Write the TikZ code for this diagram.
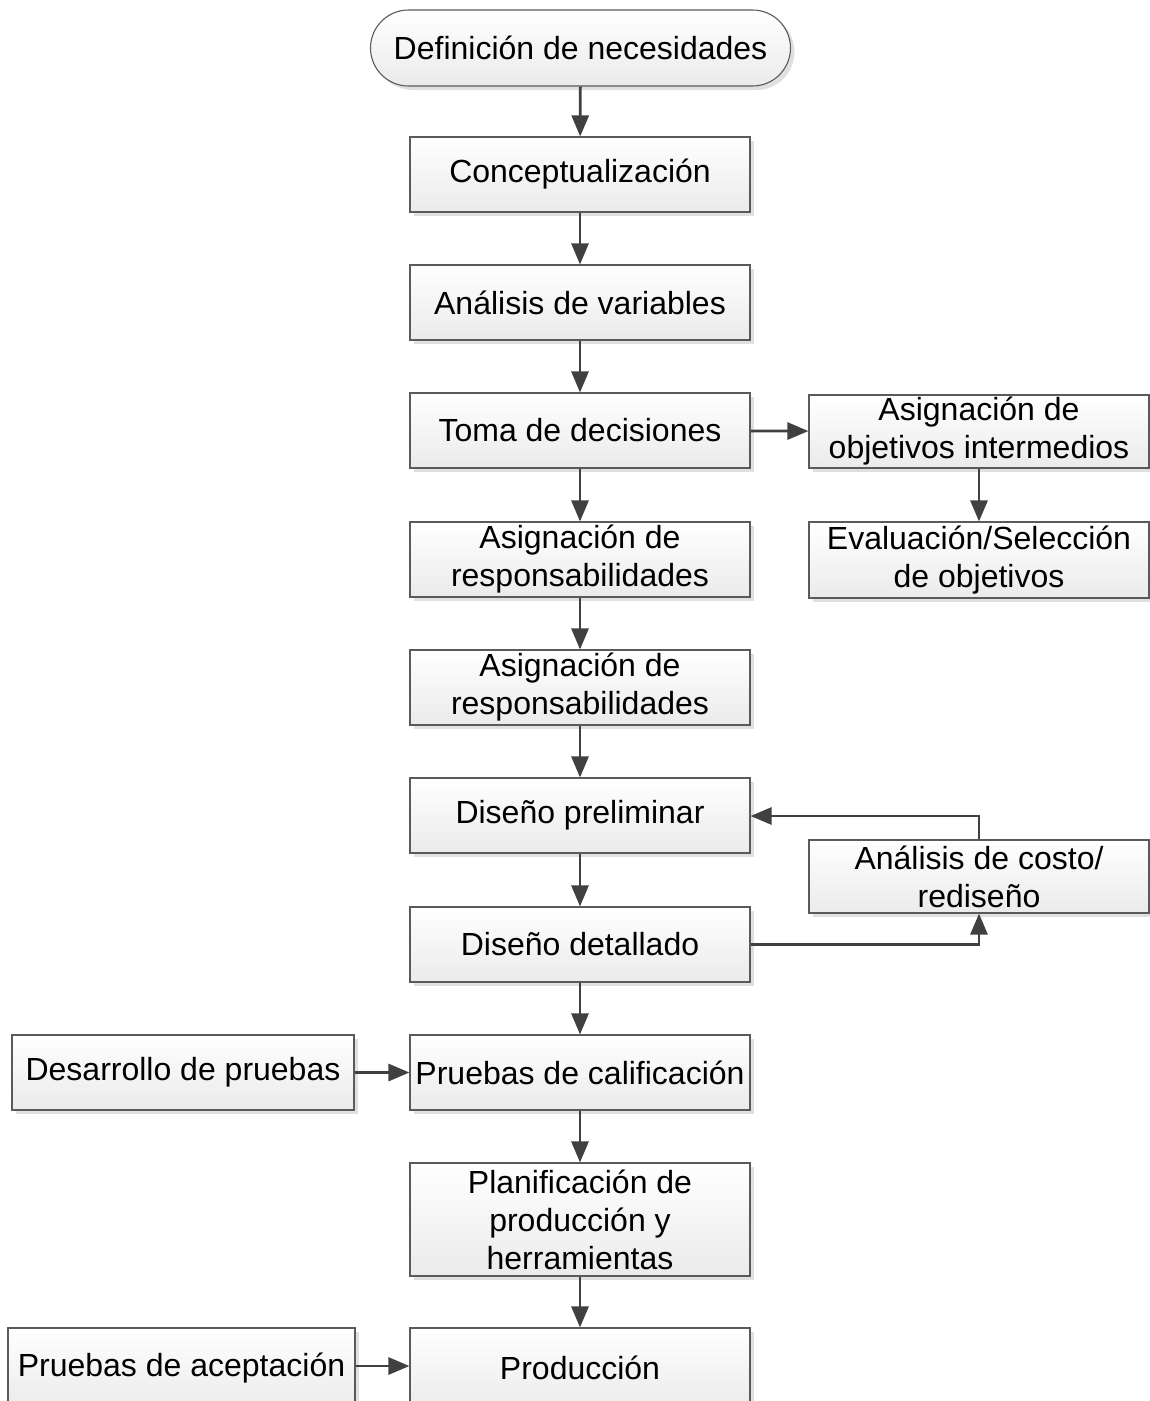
\documentclass[tikz,border=0pt]{standalone}
\usepackage{fontspec}
\setmainfont{Liberation Sans}
\usetikzlibrary{arrows.meta,shadows,positioning}
\definecolor{edge}{HTML}{5A5A5A}
\definecolor{arr}{HTML}{404040}
\begin{document}
\begin{tikzpicture}[x=1pt,y=-1pt,
  box/.style={draw=edge,line width=1.1pt,top color=white,bottom color=black!8,
    drop shadow={shadow xshift=4pt,shadow yshift=-4pt,fill=black!12,opacity=1},
    align=center,inner sep=1pt,font=\fontsize{32}{38}\selectfont,
    minimum width=340pt,minimum height=75pt},
  term/.style={box,rounded corners=38pt,minimum width=420pt,minimum height=76pt},
  conn/.style={draw=arr,line width=2.8pt,-{Triangle[length=21pt,width=17pt]}}]
\useasboundingbox (0,0) rectangle (1150,1401);
\clip (0,0) rectangle (1150,1401);
\node[term] (def) at (580.5,48) {Definición de necesidades};
\node[box] (con) at (580,174.5) {Conceptualización};
\node[box] (ana) at (580,302.5) {Análisis de variables};
\node[box] (tom) at (580,430.5) {Toma de decisiones};
\node[box] (as1) at (580,559.5) {Asignación de\\responsabilidades};
\node[box] (as2) at (580,687.5) {Asignación de\\responsabilidades};
\node[box] (pre) at (580,815.5) {Diseño preliminar};
\node[box] (det) at (580,944.5) {Diseño detallado};
\node[box] (cal) at (580,1072.5) {Pruebas de calificación};
\node[box,minimum height=113pt] (pla) at (580,1219.5) {Planificación de\\producción y\\herramientas};
\node[box,minimum height=80pt] (pro) at (580,1368) {Producción};
\node[box,minimum height=73pt] (obj) at (979,431.5) {Asignación de\\objetivos intermedios};
\node[box,minimum height=76pt] (eva) at (979,560) {Evaluación/Selección\\de objetivos};
\node[box,minimum height=73pt] (cos) at (979,876.5) {Análisis de costo/\\rediseño};
\node[box,minimum width=342pt] (des) at (183,1072.5) {Desarrollo de pruebas};
\node[box,minimum width=347pt,minimum height=80pt] (ace) at (181.5,1368) {Pruebas de aceptación};
\draw[conn] (def) -- (con);
\draw[conn] (con) -- (ana);
\draw[conn] (ana) -- (tom);
\draw[conn] (tom) -- (as1);
\draw[conn] (as1) -- (as2);
\draw[conn] (as2) -- (pre);
\draw[conn] (pre) -- (det);
\draw[conn] (det) -- (cal);
\draw[conn] (cal) -- (pla);
\draw[conn] (pla) -- (pro);
\draw[conn] (tom) -- (obj);
\draw[conn] (obj) -- (eva);
\draw[conn] (det.east) -| (cos.south);
\draw[conn] (cos.north) |- (pre.east |- 0,816);
\draw[conn] (des) -- (cal);
\draw[conn] (ace.east |- 0,1366) -- (pro.west |- 0,1366);
\end{tikzpicture}
\end{document}
